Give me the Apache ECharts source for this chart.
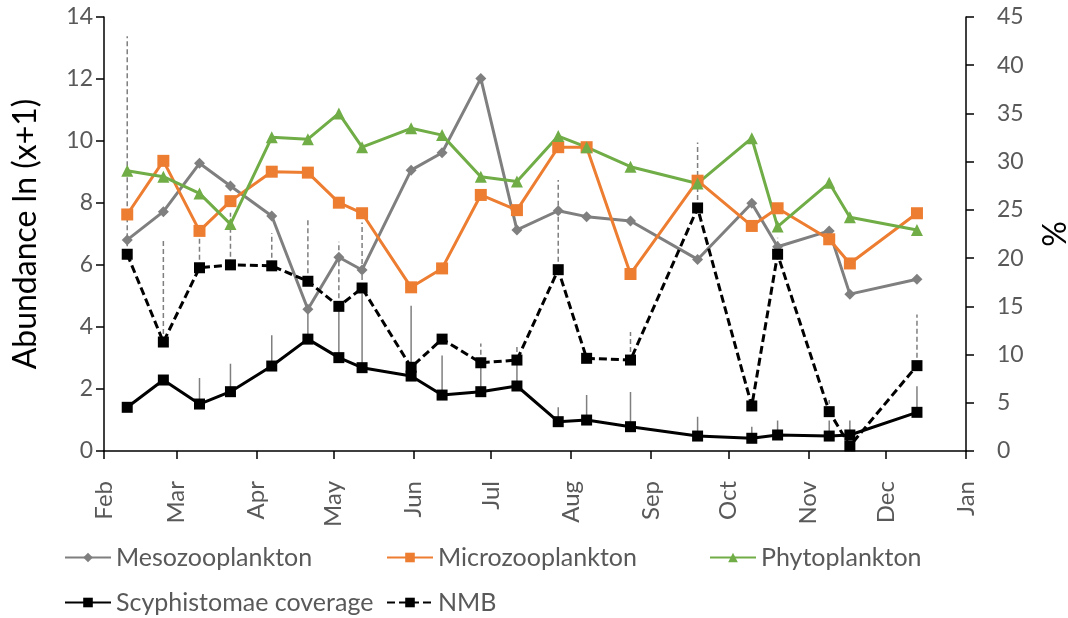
<!DOCTYPE html>
<html>
<head>
<meta charset="utf-8">
<script src="https://cdn.jsdelivr.net/npm/echarts@6/dist/echarts.min.js"></script>
<style>
html,body{margin:0;padding:0;background:#fff;}
#chart{width:1068px;height:618px;}
</style>
</head>
<body>
<div id="chart"></div>
<script>
// ---- data ----
const dates = ['2017-02-10','2017-02-24','2017-03-10','2017-03-22','2017-04-07','2017-04-21','2017-05-03','2017-05-12','2017-05-31','2017-06-12','2017-06-27','2017-07-11','2017-07-27','2017-08-07','2017-08-24','2017-09-19','2017-10-10','2017-10-20','2017-11-09','2017-11-17','2017-12-13'];
const meso  = [6.81,7.72,9.28,8.55,7.58,4.57,6.25,5.84,9.06,9.62,12.02,7.13,7.75,7.56,7.42,6.18,7.99,6.59,7.10,5.06,5.54];
const micro = [7.63,9.36,7.10,8.06,9.01,8.98,8.01,7.67,5.28,5.89,8.26,7.77,9.80,9.80,5.71,8.72,7.26,7.83,6.83,6.05,7.67];
const phyto = [9.04,8.85,8.31,7.32,10.12,10.06,10.89,9.80,10.41,10.19,8.85,8.69,10.16,9.80,9.17,8.63,10.09,7.24,8.65,7.54,7.13];
const scyph = [4.53,7.36,4.87,6.15,8.81,11.6,9.68,8.64,7.77,5.8,6.15,6.74,3.04,3.21,2.52,1.55,1.32,1.66,1.55,1.66,4.01];
const nmb   = [20.4,11.3,19.0,19.3,19.2,17.6,15.0,16.9,8.68,11.6,9.15,9.43,18.8,9.61,9.43,25.2,4.67,20.4,4.08,0.52,8.85];
const scyphErr = [0,0,2.7,2.9,3.2,3.0,5.3,7.7,7.3,4.1,3.0,2.7,1.5,2.6,3.6,2.0,1.2,1.5,1.6,1.5,2.7];
const nmbErr   = [22.6,10.6,3.2,5.4,3.4,6.4,6.7,6.8,0.5,0.3,2.0,1.5,9.3,0.3,2.9,6.8,0.8,1.7,1.2,1.5,5.3];
const monthNames = ['Jan','Feb','Mar','Apr','May','Jun','Jul','Aug','Sep','Oct','Nov','Dec'];
const seriesNames = ['Mesozooplankton','Microzooplankton','Phytoplankton','Scyphistomae coverage','NMB'];

const FONT = 'Lato';
const pair = arr => dates.map((d,i)=>[d, arr[i]]);
const errData = (vals, errs) => dates.map((d,i)=>[d, vals[i], vals[i]+errs[i]]);

function errSeries(data, dashed){
  return {
    type:'custom', yAxisIndex:1, z:1, silent:true,
    encode:{x:0, y:[1,2]},
    data:data,
    renderItem:function(params, api){
      const x = api.value(0);
      const p1 = api.coord([x, api.value(1)]);
      const p2 = api.coord([x, api.value(2)]);
      return {type:'line', shape:{x1:p1[0],y1:p1[1],x2:p2[0],y2:p2[1]},
        style:{stroke:'#7f7f7f', lineWidth:1.5, lineDash: dashed ? [5,3] : null}};
    }
  };
}

const legendBase = {itemWidth:46, itemHeight:12, itemGap:10, padding:0,
  textStyle:{fontFamily:FONT, fontSize:25, color:'#595959'}};

const chart = echarts.init(document.getElementById('chart'), null, {renderer:'canvas'});
chart.setOption({
  animation:false,
  backgroundColor:'#fff',
  grid:{left:104, right:102, top:17, bottom:167, containLabel:false, outerBoundsMode:'none'},
  legend:[
    Object.assign({data:[seriesNames[0]], left:64, top:545}, legendBase),
    Object.assign({data:[seriesNames[1]], left:386, top:545}, legendBase),
    Object.assign({data:[seriesNames[2]], left:709, top:545}, legendBase),
    Object.assign({data:[seriesNames[3]], left:64, top:590}, legendBase),
    Object.assign({data:[seriesNames[4]], left:386, top:590}, legendBase)
  ],
  xAxis:{
    type:'time', min:'2017-02-01', max:'2018-01-01',
    splitNumber:12, minInterval:28*86400000, maxInterval:31*86400000,
    axisLine:{lineStyle:{color:'#000', width:1.5}},
    axisTick:{show:true, length:8, lineStyle:{color:'#000', width:1.5}},
    splitLine:{show:false},
    axisLabel:{rotate:90, margin:30, showMinLabel:true, showMaxLabel:true, hideOverlap:false,
      fontFamily:FONT, fontSize:24, color:'#595959',
      formatter:function(v){ return monthNames[new Date(v).getMonth()]; }}
  },
  yAxis:[
    {type:'value', min:0, max:14, interval:2,
     name:'Abundance ln (x+1)', nameLocation:'middle', nameRotate:90, nameGap:62,
     nameTextStyle:{fontFamily:FONT, fontSize:32, color:'#000'},
     axisLine:{show:true, lineStyle:{color:'#000', width:1.5}},
     axisTick:{show:true, length:8, lineStyle:{color:'#000', width:1.5}},
     splitLine:{show:false},
     axisLabel:{margin:11, fontFamily:FONT, fontSize:23, color:'#595959'}},
    {type:'value', min:0, max:45, interval:5,
     name:'%', nameLocation:'middle', nameRotate:90, nameGap:74,
     nameTextStyle:{fontFamily:FONT, fontSize:32, color:'#000'},
     axisLine:{show:true, lineStyle:{color:'#000', width:1.5}},
     axisTick:{show:true, length:8, lineStyle:{color:'#000', width:1.5}},
     splitLine:{show:false},
     axisLabel:{margin:31, align:'left', fontFamily:FONT, fontSize:23, color:'#595959'}}
  ],
  series:[
    errSeries(errData(scyph, scyphErr), false),
    errSeries(errData(nmb, nmbErr), true),
    {name:seriesNames[0], type:'line', z:3, data:pair(meso), symbol:'diamond', symbolSize:11,
     itemStyle:{color:'#7f7f7f'}, lineStyle:{color:'#7f7f7f', width:3}},
    {name:seriesNames[1], type:'line', z:3, data:pair(micro), symbol:'rect', symbolSize:12,
     itemStyle:{color:'#ED7D31'}, lineStyle:{color:'#ED7D31', width:3}},
    {name:seriesNames[2], type:'line', z:3, data:pair(phyto), symbol:'triangle', symbolSize:12,
     itemStyle:{color:'#70AD47'}, lineStyle:{color:'#70AD47', width:3}},
    {name:seriesNames[3], type:'line', z:4, yAxisIndex:1, data:pair(scyph), symbol:'rect', symbolSize:11,
     itemStyle:{color:'#000'}, lineStyle:{color:'#000', width:3}},
    {name:seriesNames[4], type:'line', z:4, yAxisIndex:1, data:pair(nmb), symbol:'rect', symbolSize:11,
     itemStyle:{color:'#000'}, lineStyle:{color:'#000', width:3, type:[8,4]}}
  ]
});
</script>
</body>
</html>
